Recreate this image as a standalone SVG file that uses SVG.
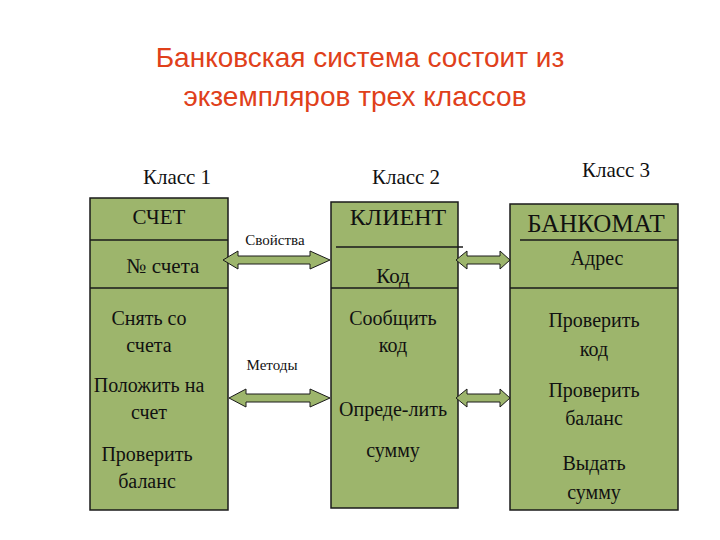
<svg xmlns="http://www.w3.org/2000/svg" width="720" height="540" viewBox="0 0 720 540">
<defs><style>
.b{fill:#9db56c;stroke:#1a1a1a;stroke-width:1.5}
.l{stroke:#1a1a1a;stroke-width:1.5}
.t{font-family:"Liberation Serif",serif;fill:#111;text-anchor:middle}
.a{fill:#9db56c;stroke:#1a1a1a;stroke-width:1}
.h{font-family:"Liberation Sans",sans-serif;fill:#e0401a;font-size:28px;text-anchor:middle}
</style></defs>
<rect width="720" height="540" fill="#fff"/>
<text class="h" x="360" y="67">Банковская система состоит из</text>
<text class="h" x="355" y="106">экземпляров трех классов</text>
<text class="t" x="177" y="184" font-size="21">Класс 1</text>
<text class="t" x="406" y="184" font-size="21">Класс 2</text>
<text class="t" x="616" y="177" font-size="21">Класс 3</text>
<g id="schet">
<rect class="b" x="90" y="198" width="138" height="312"/>
<line class="l" x1="90" y1="240" x2="228" y2="240"/><line class="l" x1="90" y1="288" x2="228" y2="288"/>
<text class="t" x="159" y="224" font-size="21">СЧЕТ</text>
<text class="t" x="163" y="273" font-size="21">№ счета</text>
<text class="t" x="149" y="325" font-size="20">Снять со</text><text class="t" x="149" y="352" font-size="20">счета</text>
<text class="t" x="149" y="392" font-size="20">Положить на</text><text class="t" x="149" y="419" font-size="20">счет</text>
<text class="t" x="147" y="461" font-size="20">Проверить</text><text class="t" x="147" y="488" font-size="20">баланс</text>
</g>
<g id="client">
<rect class="b" x="331" y="202" width="127" height="306"/>
<line class="l" x1="336" y1="247" x2="463" y2="247"/><line class="l" x1="331" y1="288" x2="458" y2="288"/>
<text class="t" x="398" y="225" font-size="24">КЛИЕНТ</text>
<text class="t" x="393" y="283" font-size="21">Код</text>
<text class="t" x="393" y="325" font-size="20">Сообщить</text><text class="t" x="393" y="352" font-size="20">код</text>
<text class="t" x="393" y="416" font-size="20">Опреде-лить</text><text class="t" x="393" y="457" font-size="20">сумму</text>
</g>
<g id="bankomat">
<rect class="b" x="510" y="204" width="168" height="306"/>
<line class="l" x1="520" y1="240" x2="678" y2="240"/><line class="l" x1="510" y1="288" x2="678" y2="288"/>
<text class="t" x="596" y="232" font-size="25">БАНКОМАТ</text>
<text class="t" x="597" y="265" font-size="20">Адрес</text>
<text class="t" x="594" y="327" font-size="20">Проверить</text><text class="t" x="594" y="356" font-size="20">код</text>
<text class="t" x="594" y="397" font-size="20">Проверить</text><text class="t" x="594" y="425" font-size="20">баланс</text>
<text class="t" x="594" y="470" font-size="20">Выдать</text><text class="t" x="594" y="499" font-size="20">сумму</text>
</g>
<g id="connectors">
<text class="t" x="275" y="245" font-size="15">Свойства</text>
<text class="t" x="272" y="370" font-size="15">Методы</text>
<polygon class="a" points="223,260 238,251 238,256 310,256 310,251 330,260 310,269 310,264 238,264 238,269"/>
<polygon class="a" points="229,398 246,389 246,394 310,394 310,389 330,398 310,407 310,402 246,402 246,407"/>
<polygon class="a" points="456,260 467,251 467,256 500,256 500,251 510,260 500,269 500,264 467,264 467,269"/>
<polygon class="a" points="456,398 467,389 467,394 500,394 500,389 510,398 500,407 500,402 467,402 467,407"/>
</g>
</svg>
